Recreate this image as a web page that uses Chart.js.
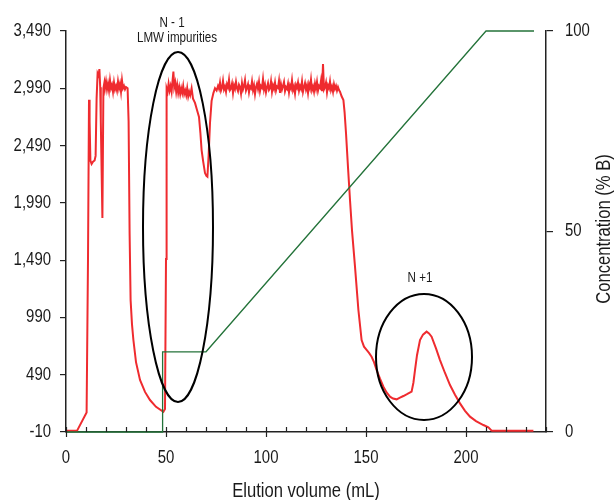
<!DOCTYPE html>
<html>
<head>
<meta charset="utf-8">
<script src="https://cdn.jsdelivr.net/npm/chart.js@4.4.1/dist/chart.umd.min.js"></script>
<style>
  html, body { margin: 0; padding: 0; background: #fff; }
  #wrap { width: 614px; height: 500px; }
</style>
</head>
<body>
<div id="wrap"><canvas id="chart" width="614" height="500"></canvas></div>
<script>
// 数据：UV 信号 (左轴)
const uvVolume = [
  0, 5.5, 10.3, 11.0, 11.5, 11.8, 12.2, 12.8, 13.5, 14.3, 14.8, 15.3, 15.8, 16.3, 16.7, 17.1, 17.4, 18.2, 18.7, 19.2,
  19.5, 20, 20.5, 21, 21.5, 22, 22.5, 23, 23.5, 24, 24.5, 25, 25.5, 26, 26.5, 27, 27.5, 28, 28.5, 29, 29.5, 30, 30.8,
  31.3, 31.8, 32.3, 33.0, 33.7, 35, 37, 39.5, 42, 45, 48.7, 49.5, 50.0, 50.3,
  50.8, 51.3, 51.8, 52.3, 52.8, 53.3, 53.7, 54.1, 54.6, 55.1, 55.6, 56.1, 56.6, 57.1, 57.6, 58.1, 58.6, 59.1, 59.6,
  60.1, 60.6, 61.1, 61.6, 62.1, 62.8, 63.5, 64.5, 65.5, 66.5, 67.2, 67.8, 68.6, 69.5, 70.2, 70.7, 71.3, 72, 72.8,
  73.7, 74.5, 75.3,
  76, 76.5, 77, 77.5, 78, 78.5, 79, 79.5, 80, 80.5,
  81, 81.5, 82, 82.5, 83, 83.5, 84, 84.5, 85, 85.5,
  86, 86.5, 87, 87.5, 88, 88.5, 89, 89.5, 90, 90.5,
  91, 91.5, 92, 92.5, 93, 93.5, 94, 94.5, 95, 95.5,
  96, 96.5, 97, 97.5, 98, 98.5, 99, 99.5, 100, 100.5,
  101, 101.5, 102, 102.5, 103, 103.5, 104, 104.5, 105, 105.5,
  106, 106.5, 107, 107.5, 108, 108.5, 109, 109.5, 110, 110.5,
  111, 111.5, 112, 112.5, 113, 113.5, 114, 114.5, 115, 115.5,
  116, 116.5, 117, 117.5, 118, 118.5, 119, 119.5, 120, 120.5,
  121, 121.5, 122, 122.5, 123, 123.5, 124, 124.5, 125, 125.5,
  126, 126.5, 127, 127.5, 128, 128.5, 129, 129.5, 130, 130.5,
  131, 131.5, 132, 132.5, 133, 133.5, 134, 134.5, 135, 135.5,
  136, 136.5, 137,
  137.8, 138.7, 139.3, 140, 141, 142, 143, 144.5, 146.2, 147.8, 149, 150.3, 151.5, 152.8, 154, 155.3, 157,
  158.7, 160.3, 162, 163.5, 165.3, 167, 168.7, 170.5, 172.8, 173.7, 174.5, 175.5, 177, 178.5, 180.3, 181.5,
  182.8, 185, 187, 189.5, 192, 194.5, 197, 199.5, 202, 205, 208.7, 211.2, 212.8, 213.5, 233.7
]
const uvSignal = [
  0, 0, 160, 1500, 2890, 2700, 2360, 2330, 2350, 2360, 2400, 2900, 3120, 3100, 3158, 3000, 2700, 1858, 2990, 3040,
  2990, 3050, 2980, 3030, 2970, 3060, 2990, 3020, 2960, 3040, 2980, 3010, 2970, 3050, 2990, 3030, 2960, 3060, 2990, 3010, 2980, 3000, 2990,
  2700, 1727, 1142, 930, 793, 600, 444, 340, 269, 210, 167, 190, 1500, 2990,
  2960, 3030, 2970, 3010, 2960, 3060, 3135, 3000, 3040, 2960, 3020, 2950, 3000, 2940, 2990, 2950, 3010, 2940, 2970,
  2930, 2990, 2920, 2960, 2930, 2990, 2900, 2862, 2800, 2740, 2600, 2451, 2350, 2250, 2225, 2218, 2400, 2687, 2880,
  2948, 2990, 2970,
  3010, 2985, 3040, 2970, 2995, 3055, 2980, 3005, 2960, 3025,
  3000, 3065, 2975, 2990, 3030, 2950, 3015, 2985, 3045, 2990,
  2965, 3020, 3000, 2945, 3035, 2980, 3010, 3060, 2970, 2995,
  3025, 2955, 3005, 2990, 3050, 2975, 3015, 2940, 3000, 3030,
  2985, 3045, 2965, 3010, 2995, 3070, 2980, 3020, 2955, 3000,
  3035, 2975, 2990, 3050, 2960, 3015, 2985, 3040, 2970, 3005,
  2995, 3055, 2950, 3025, 2980, 3010, 3045, 2965, 3000, 2985,
  3030, 2955, 3015, 2990, 3060, 2975, 3005, 2945, 3020, 2995,
  3040, 2970, 3010, 2985, 3050, 2960, 3000, 3035, 2980, 3015,
  2950, 3025, 2990, 3065, 2975, 3005, 2960, 3030, 2985, 3045,
  2970, 3010, 2995, 3055, 2965, 3202, 2980, 3000, 3040, 2955,
  3015, 2990, 3050, 2975, 3005, 2960, 3025, 2985, 3010, 2970,
  3000, 2975, 2960,
  2920, 2888, 2780, 2600, 2300, 2015, 1750, 1433, 1055, 793, 735, 706, 680, 647, 600, 531, 455,
  385, 335, 298, 282, 275, 290, 304, 320, 342, 420, 531, 660, 793, 840, 866, 850,
  822, 720, 618, 505, 400, 315, 240, 175, 124, 85, 51, 31, 2, 0, 0
]

// 数据：梯度浓度 %B (右轴)
const gradVolume = [0, 48.3, 48.3, 70, 210, 234]
const gradPercent = [0, 0, 20, 20, 100, 100]

// 刻度
const leftTicks = [-10, 490, 990, 1490, 1990, 2490, 2990, 3490]
const rightTicks = [0, 50, 100]
const xLabelTicks = [0, 50, 100, 150, 200]

// 标注椭圆 (数据坐标)
const ellipses = [
  { cx: 56, cy: 1779, rx: 17.5, ry: 1527 },
  { cx: 179, cy: 645, rx: 24, ry: 550 }
]
const notes = [
  { x: 53, y: 3560, text: 'N - 1' },
  { x: 55.5, y: 3425, text: 'LMW impurities' },
  { x: 177, y: 1335, text: 'N +1' }
]

const FONT = "'Liberation Sans', Arial, sans-serif"
const INK = '#1a1a1a'
const SQUEEZE = 0.83

// 窄体文字：横向压缩
function narrowText(ctx, text, x, y, size, align) {
  ctx.save()
  ctx.font = size + 'px ' + FONT
  ctx.textAlign = align
  ctx.textBaseline = 'middle'
  ctx.translate(x, y)
  ctx.scale(SQUEEZE, 1)
  ctx.fillText(text, 0, 0)
  ctx.restore()
}

// 自定义绘制：刻度文字、x 轴刻度、标题、椭圆、注释
const decorPlugin = {
  id: 'decor',
  afterDatasetsDraw(chart) {
    const { ctx, scales } = chart
    const x = scales.x, y = scales.y
    ctx.save()
    ctx.strokeStyle = '#000'
    ctx.lineWidth = 2
    ellipses.forEach(e => {
      const cx = x.getPixelForValue(e.cx)
      const cy = y.getPixelForValue(e.cy)
      const rx = Math.abs(x.getPixelForValue(e.cx + e.rx) - cx)
      const ry = Math.abs(y.getPixelForValue(e.cy + e.ry) - cy)
      ctx.beginPath()
      ctx.ellipse(cx, cy, rx, ry, 0, 0, Math.PI * 2)
      ctx.stroke()
    })
    ctx.fillStyle = INK
    notes.forEach(n => {
      narrowText(ctx, n.text, x.getPixelForValue(n.x), y.getPixelForValue(n.y), 14, 'center')
    })
    ctx.restore()
  },
  afterDraw(chart) {
    const { ctx, scales, chartArea } = chart
    const x = scales.x, y = scales.y, y1 = scales.y1
    ctx.save()
    // x 轴刻度线
    ctx.strokeStyle = '#222'
    ctx.lineWidth = 1.2
    for (let v = 0; v <= 240; v += 10) {
      const px = Math.round(x.getPixelForValue(v)) + 0.5
      const major = v % 50 === 0
      ctx.beginPath()
      ctx.moveTo(px, chartArea.bottom - 5)
      ctx.lineTo(px, chartArea.bottom + (major ? 5 : 0))
      ctx.stroke()
    }
    ctx.fillStyle = INK
    // 刻度文字
    leftTicks.forEach(v => narrowText(ctx, v.toLocaleString('en-US'), 51, y.getPixelForValue(v), 18, 'right'))
    rightTicks.forEach(v => narrowText(ctx, String(v), 565, y1.getPixelForValue(v), 18, 'left'))
    xLabelTicks.forEach(v => narrowText(ctx, String(v), x.getPixelForValue(v), 458, 18, 'center'))
    // 轴标题
    narrowText(ctx, 'Elution volume (mL)', (chartArea.left + chartArea.right) / 2, 491, 20, 'center')
    ctx.translate(604, 229)
    ctx.rotate(-Math.PI / 2)
    narrowText(ctx, 'Concentration (% B)', 0, 0, 20, 'center')
    ctx.restore()
  }
}

const uvPoints = uvVolume.map((v, i) => ({ x: v, y: uvSignal[i] }))
const gradPoints = gradVolume.map((v, i) => ({ x: v, y: gradPercent[i] }))

const ctx = document.getElementById('chart').getContext('2d')
new Chart(ctx, {
  type: 'line',
  data: {
    datasets: [
      {
        label: '% B',
        data: gradPoints,
        yAxisID: 'y1',
        borderColor: '#24733a',
        borderWidth: 1.3,
        pointRadius: 0,
        tension: 0,
        fill: false,
        clip: 4
      },
      {
        label: 'UV',
        data: uvPoints,
        yAxisID: 'y',
        borderColor: '#ef2b2f',
        borderWidth: 2,
        pointRadius: 0,
        tension: 0,
        fill: false,
        clip: 4
      }
    ]
  },
  options: {
    responsive: false,
    animation: false,
    layout: { padding: { top: 31, left: 0, right: 0, bottom: 0 } },
    plugins: {
      legend: { display: false },
      tooltip: { enabled: false }
    },
    scales: {
      x: {
        type: 'linear',
        min: 0,
        max: 240,
        grid: { display: false },
        border: { display: true, color: '#222', width: 1.5 },
        afterBuildTicks: s => { s.ticks = xLabelTicks.map(v => ({ value: v })) },
        afterFit: s => { s.height = 68 },
        ticks: { display: false }
      },
      y: {
        position: 'left',
        min: -10,
        max: 3490,
        afterBuildTicks: s => { s.ticks = leftTicks.map(v => ({ value: v })) },
        afterFit: s => { s.width = 66 },
        grid: { drawOnChartArea: false, drawTicks: true, tickLength: 6, color: '#222', lineWidth: 1.2 },
        border: { display: true, color: '#222', width: 1.5 },
        ticks: { display: false }
      },
      y1: {
        position: 'right',
        min: 0,
        max: 100,
        afterBuildTicks: s => { s.ticks = rightTicks.map(v => ({ value: v })) },
        afterFit: s => { s.width = 68 },
        grid: { drawOnChartArea: false, drawTicks: true, tickLength: 7, color: '#222', lineWidth: 1.2 },
        border: { display: true, color: '#222', width: 1.5 },
        ticks: { display: false }
      }
    }
  },
  plugins: [decorPlugin]
})
</script>
</body>
</html>
